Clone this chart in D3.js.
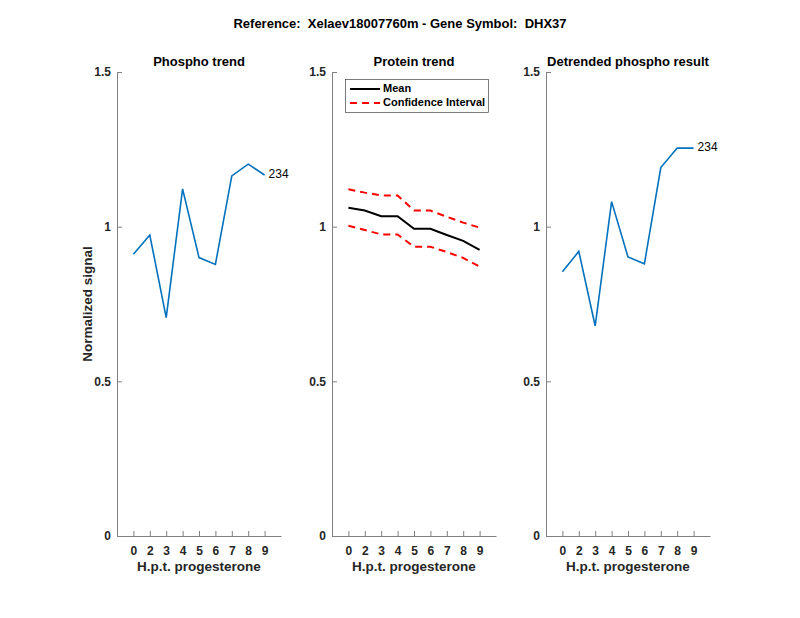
<!DOCTYPE html>
<html>
<head>
<meta charset="utf-8">
<script src="https://cdn.jsdelivr.net/npm/d3@7"></script>
<style>
  body { margin: 0; background: #fff; }
  text { font-family: 'Liberation Sans', Arial, sans-serif; white-space: pre; }
</style>
</head>
<body>
<svg width="800" height="618"></svg>
<script>
const hpt = ['0', '2', '3', '4', '5', '6', '7', '8', '9'];
const phospho = [0.911, 0.973, 0.706, 1.122, 0.900, 0.878, 1.164, 1.202, 1.167];
const proteinMean = [1.061, 1.052, 1.034, 1.034, 0.993, 0.993, 0.973, 0.954, 0.925];
const proteinUpper = [1.121, 1.110, 1.101, 1.101, 1.052, 1.052, 1.032, 1.013, 0.997];
const proteinLower = [1.003, 0.989, 0.975, 0.975, 0.935, 0.935, 0.918, 0.899, 0.871];
const detrended = [0.854, 0.920, 0.679, 1.081, 0.902, 0.880, 1.191, 1.254, 1.254];
const yTicks = [0, 0.5, 1, 1.5];
const peptideLabel = '234';

const svg = d3.select('svg');
const blue = '#0072BD';
const axisGray = '#808080';
const textDark = '#262626';

svg.append('text')
  .text('Reference:  Xelaev18007760m - Gene Symbol:  DHX37')
  .attr('x', 400).attr('y', 28)
  .attr('text-anchor', 'middle')
  .attr('font-size', 13).attr('font-weight', 'bold')
  .attr('fill', '#000');

const panels = [
  { left: 117, title: 'Phospho trend' },
  { left: 332, title: 'Protein trend' },
  { left: 546, title: 'Detrended phospho result' },
];
const plotTop = 72, plotBottom = 536, plotWidth = 164;

const yScale = d3.scaleLinear([0, 1.5], [plotBottom, plotTop]);

panels.forEach((p) => {
  p.x = d3.scaleLinear([0, 10], [p.left, p.left + plotWidth]);
  const g = svg.append('g');

  const xAxis = d3.axisBottom(p.x)
    .tickValues(d3.range(1, 10))
    .tickFormat((d) => hpt[d - 1])
    .tickSizeInner(-5).tickSizeOuter(0).tickPadding(10);
  g.append('g')
    .attr('transform', `translate(0, ${plotBottom})`)
    .call(xAxis)
    .call((a) => a.select('.domain').attr('stroke', axisGray))
    .call((a) => a.selectAll('line').attr('stroke', axisGray))
    .selectAll('text')
      .attr('font-size', 12).attr('font-weight', 'bold').attr('fill', textDark)
      .style('font-family', "'Liberation Sans', Arial, sans-serif");

  const yAxis = d3.axisLeft(yScale)
    .tickValues(yTicks)
    .tickFormat(d3.format('~g'))
    .tickSizeInner(-5).tickSizeOuter(0).tickPadding(6);
  g.append('g')
    .attr('transform', `translate(${p.left}, 0)`)
    .call(yAxis)
    .call((a) => a.select('.domain').attr('stroke', axisGray))
    .call((a) => a.selectAll('line').attr('stroke', axisGray))
    .selectAll('text')
      .attr('font-size', 12).attr('font-weight', 'bold').attr('fill', textDark)
      .style('font-family', "'Liberation Sans', Arial, sans-serif");

  g.append('text')
    .text(p.title)
    .attr('x', p.left + plotWidth / 2).attr('y', 66)
    .attr('text-anchor', 'middle')
    .attr('font-size', 13).attr('font-weight', 'bold').attr('fill', '#000');

  g.append('text')
    .text('H.p.t. progesterone')
    .attr('x', p.left + plotWidth / 2).attr('y', 571)
    .attr('text-anchor', 'middle')
    .attr('font-size', 13.5).attr('font-weight', 'bold').attr('fill', textDark);
});

svg.append('text')
  .text('Normalized signal')
  .attr('transform', `translate(92, ${(plotTop + plotBottom) / 2}) rotate(-90)`)
  .attr('text-anchor', 'middle')
  .attr('font-size', 13.5).attr('font-weight', 'bold').attr('fill', textDark);

const lineFor = (xs) => d3.line()
  .x((d, i) => xs(i + 1))
  .y((d) => yScale(d));

// phospho trend
svg.append('path')
  .attr('d', lineFor(panels[0].x)(phospho))
  .attr('fill', 'none').attr('stroke', blue).attr('stroke-width', 1.6);
svg.append('text')
  .text(peptideLabel)
  .attr('x', panels[0].x(9) + 4)
  .attr('y', yScale(phospho[8]))
  .attr('dominant-baseline', 'middle')
  .attr('font-size', 12).attr('fill', '#000');

// protein trend
svg.append('path')
  .attr('d', lineFor(panels[1].x)(proteinMean))
  .attr('fill', 'none').attr('stroke', '#000').attr('stroke-width', 2);
[proteinUpper, proteinLower].forEach((s) => {
  svg.append('path')
    .attr('d', lineFor(panels[1].x)(s))
    .attr('fill', 'none').attr('stroke', '#ff0000').attr('stroke-width', 2)
    .attr('stroke-dasharray', '7,5');
});

// legend
const lg = svg.append('g');
lg.append('rect')
  .attr('x', 345.5).attr('y', 79.5).attr('width', 143).attr('height', 33)
  .attr('fill', '#fff').attr('stroke', textDark).attr('stroke-width', 0.6);
lg.append('line')
  .attr('x1', 350).attr('x2', 380).attr('y1', 89).attr('y2', 89)
  .attr('stroke', '#000').attr('stroke-width', 2);
lg.append('line')
  .attr('x1', 350).attr('x2', 380).attr('y1', 103).attr('y2', 103)
  .attr('stroke', '#ff0000').attr('stroke-width', 2).attr('stroke-dasharray', '7,5');
lg.append('text').text('Mean')
  .attr('x', 383).attr('y', 89).attr('dominant-baseline', 'middle')
  .attr('font-size', 11).attr('font-weight', 'bold').attr('fill', '#000');
lg.append('text').text('Confidence Interval')
  .attr('x', 383).attr('y', 103).attr('dominant-baseline', 'middle')
  .attr('font-size', 11).attr('font-weight', 'bold').attr('fill', '#000');

// detrended
svg.append('path')
  .attr('d', lineFor(panels[2].x)(detrended))
  .attr('fill', 'none').attr('stroke', blue).attr('stroke-width', 1.6);
svg.append('text')
  .text(peptideLabel)
  .attr('x', panels[2].x(9) + 4)
  .attr('y', yScale(detrended[8]))
  .attr('dominant-baseline', 'middle')
  .attr('font-size', 12).attr('fill', '#000');
</script>
</body>
</html>
